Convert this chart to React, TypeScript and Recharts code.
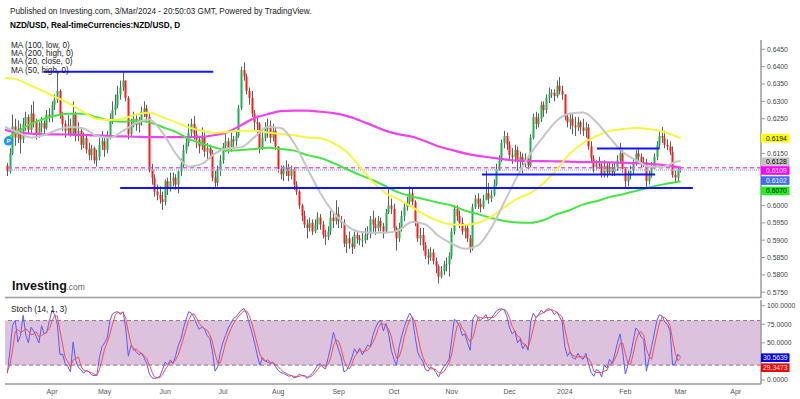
import React from 'react';
import { ComposedChart, Bar, Line, XAxis, YAxis, ReferenceLine, ReferenceArea, ReferenceDot } from 'recharts';

const FONT = '"Liberation Sans", Arial, Helvetica, sans-serif';

// x = trading-day index, 0 = Mon 3 Apr 2023 (first candle is Thu 9 Mar 2023)
const firstDay = -17;
const firstOpen = 6115;

// daily NZD/USD in pips (price x 10000), one row per week
const closes = [
    6098, 6150,
    6228, 6195, 6222, 6190, 6235,
    6255, 6218, 6265, 6240, 6205,
    6225, 6238, 6222, 6262, 6255,
    6290, 6305, 6330, 6258, 6235,
    6215, 6230, 6205, 6262, 6200,
    6215, 6175, 6195, 6162, 6145,
    6165, 6130, 6140, 6175, 6185,
    6160, 6200, 6245, 6275, 6290,
    6320, 6340, 6360, 6310, 6205,
    6230, 6250, 6232, 6240, 6270,
    6280, 6255, 6105, 6080, 6040,
    6030, 6018, 6010, 6070, 6050,
    6070, 6080, 6060, 6098, 6120,
    6160, 6180, 6210, 6235, 6205,
    6190, 6170, 6200, 6155, 6165,
    6150, 6080, 6065, 6100, 6130,
    6170, 6185, 6165, 6190, 6185,
    6200, 6280, 6390, 6372, 6330,
    6310, 6265, 6240, 6235, 6165,
    6195, 6220, 6230, 6195, 6215,
    6170, 6105, 6090, 6100, 6110,
    6085, 6105, 6060, 6040, 6000,
    5970, 5945, 5935, 5950, 5925,
    5945, 5965, 5945, 5915, 5910,
    5925, 5965, 5955, 5975, 5955,
    5950, 5890, 5905, 5890, 5880,
    5915, 5905, 5900, 5900, 5915,
    5920, 5960, 5945, 5935, 5955,
    5940, 5925, 5980, 6000, 5990,
    5935, 5905, 5935, 5970, 5995,
    6010, 6035, 6010, 5950, 5905,
    5915, 5885, 5855, 5850, 5865,
    5840, 5825, 5795, 5810, 5830,
    5830, 5855, 5925, 5990, 5970,
    5950, 5925, 5935, 5905, 5875,
    5995, 6020, 6005, 5995, 6015,
    6035, 6020, 6030, 6060, 6105,
    6130, 6180, 6200, 6175, 6145,
    6140, 6160, 6130, 6140, 6125,
    6135, 6115, 6195, 6255, 6235,
    6250, 6290, 6275, 6310, 6320,
    6325, 6315, 6345, 6330, 6320,
    6255, 6240, 6250, 6230, 6225,
    6240, 6225, 6215, 6225, 6170,
    6135, 6110, 6120, 6115, 6090,
    6115, 6095, 6110, 6095, 6110,
    6130, 6150, 6105, 6070, 6085,
    6100, 6125, 6150, 6140, 6120,
    6125, 6070, 6090, 6110, 6140,
    6175, 6200, 6195, 6175, 6170,
    6155, 6088, 6080, 6105, 6102,
];

const highs = [
    6122, 6165,
    6262, 6250, 6245, 6236, 6252,
    6270, 6262, 6290, 6300, 6250,
    6240, 6255, 6245, 6275, 6280,
    6300, 6320, 6385, 6335, 6270,
    6245, 6260, 6250, 6300, 6270,
    6240, 6225, 6210, 6205, 6180,
    6175, 6170, 6160, 6195, 6215,
    6195, 6215, 6265, 6300, 6320,
    6345, 6360, 6385, 6360, 6315,
    6250, 6270, 6260, 6255, 6285,
    6300, 6290, 6265, 6120, 6090,
    6060, 6055, 6040, 6075, 6080,
    6095, 6095, 6090, 6105, 6135,
    6175, 6200, 6235, 6250, 6258,
    6225, 6200, 6225, 6210, 6180,
    6175, 6160, 6100, 6115, 6145,
    6180, 6205, 6195, 6210, 6200,
    6215, 6290, 6400, 6412, 6380,
    6340, 6330, 6275, 6260, 6240,
    6215, 6240, 6250, 6245, 6235,
    6225, 6170, 6115, 6115, 6130,
    6120, 6115, 6110, 6070, 6045,
    6005, 5985, 5960, 5965, 5960,
    5960, 5980, 5975, 5955, 5930,
    5940, 5985, 5980, 6015, 5995,
    5970, 5960, 5915, 5925, 5910,
    5925, 5925, 5915, 5925, 5935,
    5940, 5970, 5985, 5965, 5970,
    5965, 5950, 5990, 6050, 6020,
    6005, 5940, 5950, 5985, 6010,
    6025, 6055, 6050, 6015, 5955,
    5935, 5935, 5895, 5875, 5880,
    5875, 5850, 5830, 5825, 5840,
    5850, 5865, 5935, 6000, 6000,
    5985, 5965, 5945, 5945, 5915,
    6005, 6030, 6035, 6020, 6030,
    6100, 6065, 6045, 6075, 6120,
    6145, 6190, 6215, 6210, 6185,
    6165, 6175, 6170, 6155, 6150,
    6150, 6145, 6205, 6265, 6270,
    6265, 6300, 6300, 6320, 6340,
    6335, 6335, 6360, 6370, 6345,
    6320, 6265, 6265, 6265, 6255,
    6255, 6245, 6250, 6240, 6235,
    6185, 6145, 6130, 6140, 6125,
    6130, 6125, 6125, 6120, 6125,
    6145, 6180, 6160, 6110, 6100,
    6115, 6135, 6160, 6165, 6150,
    6140, 6135, 6100, 6125, 6150,
    6185, 6215, 6226, 6215, 6190,
    6185, 6170, 6100, 6112, 6112,
];

const lows = [
    6085, 6092,
    6145, 6172, 6180, 6150, 6180,
    6215, 6205, 6210, 6225, 6190,
    6195, 6210, 6205, 6218, 6240,
    6240, 6275, 6295, 6250, 6215,
    6195, 6205, 6198, 6200, 6185,
    6185, 6160, 6165, 6150, 6130,
    6130, 6120, 6112, 6130, 6160,
    6140, 6150, 6190, 6235, 6260,
    6280, 6305, 6330, 6300, 6190,
    6200, 6225, 6215, 6210, 6230,
    6255, 6240, 6095, 6060, 6025,
    6015, 6005, 5987, 6000, 6030,
    6040, 6055, 6045, 6035, 6085,
    6110, 6150, 6170, 6200, 6190,
    6165, 6150, 6160, 6140, 6130,
    6135, 6070, 6053, 6055, 6085,
    6120, 6155, 6150, 6155, 6165,
    6170, 6195, 6275, 6360, 6320,
    6290, 6255, 6215, 6200, 6150,
    6160, 6185, 6195, 6180, 6185,
    6160, 6095, 6075, 6070, 6085,
    6070, 6075, 6045, 6030, 5990,
    5955, 5935, 5905, 5925, 5915,
    5920, 5930, 5930, 5905, 5886,
    5900, 5915, 5935, 5945, 5935,
    5935, 5880, 5863, 5875, 5860,
    5875, 5890, 5885, 5880, 5890,
    5900, 5905, 5920, 5915, 5925,
    5925, 5905, 5920, 5975, 5975,
    5925, 5870, 5895, 5925, 5955,
    5985, 6000, 6000, 5940, 5895,
    5885, 5870, 5845, 5830, 5840,
    5830, 5805, 5775, 5790, 5800,
    5810, 5795, 5845, 5915, 5955,
    5935, 5915, 5905, 5895, 5863,
    5870, 5990, 5990, 5980, 5990,
    6015, 6005, 6010, 6025, 6055,
    6100, 6125, 6165, 6160, 6130,
    6120, 6125, 6100, 6110, 6093,
    6110, 6105, 6110, 6190, 6220,
    6225, 6240, 6255, 6265, 6295,
    6310, 6300, 6310, 6320, 6305,
    6245, 6225, 6220, 6205, 6200,
    6215, 6205, 6200, 6195, 6160,
    6125, 6095, 6100, 6105, 6080,
    6080, 6080, 6090, 6085, 6085,
    6100, 6120, 6095, 6050, 6055,
    6075, 6090, 6115, 6125, 6110,
    6110, 6050, 6060, 6080, 6105,
    6130, 6165, 6180, 6165, 6160,
    6145, 6080, 6068, 6070, 6095,
];

// moving averages, read every 5th trading day (last point = 1 Mar 2024)
const maDays = [
    -18, -13, -8, -3, 2, 7, 12, 17, 22, 27, 32, 37, 42, 47, 52, 57, 62, 67, 72, 77,
    82, 87, 92, 97, 102, 107, 112, 117, 122, 127, 132, 137, 142, 147, 152, 157, 162, 167, 172, 177,
    182, 187, 192, 197, 202, 207, 212, 217, 222, 227, 232, 237, 239,
];
const ma20Close = [
    0.6226, 0.6211, 0.6196, 0.6203, 0.6218, 0.6226, 0.6222, 0.6200, 0.6195, 0.6215,
    0.6238, 0.6248, 0.6210, 0.6150, 0.6112, 0.6120, 0.6150, 0.6165, 0.6168, 0.6197,
    0.6226, 0.6223, 0.6180, 0.6108, 0.6036, 0.5980, 0.5942, 0.5924, 0.5921, 0.5921,
    0.5929, 0.5952, 0.5945, 0.5912, 0.5890, 0.5875, 0.5885, 0.5935, 0.6010, 0.6085,
    0.6150, 0.6200, 0.6245, 0.6265, 0.6268, 0.6240, 0.6196, 0.6154, 0.6131, 0.6112,
    0.6111, 0.6125, 0.6128,
];
const ma50High = [
    0.6368, 0.6362, 0.6345, 0.6328, 0.6310, 0.6292, 0.6269, 0.6250, 0.6246, 0.6250,
    0.6262, 0.6268, 0.6254, 0.6240, 0.6225, 0.6215, 0.6209, 0.6212, 0.6215, 0.6215,
    0.6210, 0.6206, 0.6202, 0.6196, 0.6194, 0.6180, 0.6155, 0.6112, 0.6068, 0.6035,
    0.6017, 0.5995, 0.5972, 0.5955, 0.5945, 0.5944, 0.5950, 0.5967, 0.5995, 0.6020,
    0.6036, 0.6065, 0.6105, 0.6150, 0.6180, 0.6200, 0.6215, 0.6220, 0.6223, 0.6220,
    0.6213, 0.6200, 0.6194,
];
const ma100Low = [
    0.6190, 0.6213, 0.6235, 0.6250, 0.6260, 0.6264, 0.6264, 0.6254, 0.6245, 0.6241,
    0.6245, 0.6240, 0.6226, 0.6212, 0.6192, 0.6178, 0.6167, 0.6158, 0.6160, 0.6163,
    0.6166, 0.6163, 0.6158, 0.6145, 0.6137, 0.6122, 0.6105, 0.6088, 0.6073, 0.6055,
    0.6037, 0.6026, 0.6017, 0.6008, 0.6000, 0.5985, 0.5975, 0.5964, 0.5955, 0.5951,
    0.5950, 0.5958, 0.5975, 0.5987, 0.6003, 0.6012, 0.6024, 0.6032, 0.6042, 0.6052,
    0.6060, 0.6067, 0.6070,
];
const ma200High = [
    0.6218, 0.6210, 0.6207, 0.6205, 0.6205, 0.6204, 0.6203, 0.6202, 0.6200, 0.6199,
    0.6198, 0.6197, 0.6197, 0.6197, 0.6197, 0.6198, 0.6203, 0.6212, 0.6232, 0.6252,
    0.6263, 0.6272, 0.6273, 0.6273, 0.6270, 0.6266, 0.6258, 0.6245, 0.6230, 0.6215,
    0.6205, 0.6198, 0.6185, 0.6170, 0.6160, 0.6150, 0.6143, 0.6138, 0.6133, 0.6129,
    0.6128, 0.6128, 0.6127, 0.6126, 0.6125, 0.6125, 0.6124, 0.6123, 0.6122, 0.6120,
    0.6117, 0.6112, 0.6109,
];

// Stoch (14, 1, 3), same days as the candles
const stochK = [
    9, 40,
    74, 80, 51, 60, 87,
    61, 50, 71, 66, 58,
    50, 73, 62, 64, 80,
    94, 88, 75, 34, 35,
    22, 18, 11, 51, 26,
    17, 14, 9, 13, 11,
    7, 6, 6, 30, 45,
    50, 57, 80, 89, 91,
    92, 88, 92, 70, 32,
    46, 43, 38, 34, 36,
    30, 22, 8, 3, 2,
    3, 5, 14, 24, 20,
    27, 22, 33, 46, 55,
    70, 82, 92, 90, 84,
    75, 68, 72, 68, 60,
    56, 38, 12, 18, 38,
    51, 60, 70, 76, 83,
    85, 90, 94, 96, 89,
    76, 64, 50, 34, 20,
    30, 26, 24, 22, 24,
    18, 13, 10, 9, 7,
    5, 6, 3, 4, 8,
    6, 5, 2, 6, 9,
    14, 20, 22, 17, 15,
    30, 45, 64, 52, 40,
    30, 11, 13, 20, 30,
    42, 36, 43, 34, 40,
    47, 45, 60, 70, 78,
    80, 66, 76, 62, 40,
    28, 20, 45, 60, 72,
    82, 90, 84, 60, 38,
    30, 25, 14, 12, 18,
    15, 10, 4, 12, 18,
    22, 28, 55, 82, 78,
    72, 60, 62, 50, 40,
    82, 88, 84, 80, 84,
    88, 80, 83, 88, 93,
    95, 96, 94, 85, 70,
    62, 66, 50, 55, 42,
    48, 40, 78, 90, 84,
    88, 94, 90, 95, 96,
    94, 88, 92, 85, 78,
    45, 32, 38, 30, 28,
    36, 30, 28, 36, 22,
    10, 5, 14, 12, 4,
    20, 16, 28, 22, 35,
    50, 62, 38, 8, 20,
    34, 52, 70, 66, 58,
    55, 12, 28, 45, 62,
    80, 88, 86, 78, 75,
    66, 20, 22, 35, 30.5639,
];
const stochD = [
    12, 20,
    41, 65, 68, 64, 66,
    69, 66, 61, 62, 65,
    58, 60, 62, 66, 69,
    79, 87, 86, 66, 48,
    30, 25, 17, 27, 29,
    31, 19, 13, 12, 11,
    10, 8, 6, 14, 27,
    42, 51, 62, 75, 87,
    91, 90, 91, 83, 65,
    49, 40, 42, 38, 36,
    33, 29, 20, 11, 4,
    3, 3, 7, 14, 19,
    24, 23, 27, 34, 45,
    57, 69, 81, 88, 89,
    83, 76, 72, 69, 67,
    61, 51, 35, 23, 23,
    36, 50, 60, 69, 76,
    81, 86, 90, 93, 93,
    87, 76, 63, 49, 35,
    28, 25, 27, 24, 23,
    21, 18, 14, 11, 9,
    7, 6, 5, 4, 5,
    6, 6, 4, 4, 6,
    10, 14, 19, 20, 18,
    21, 30, 46, 54, 52,
    41, 27, 18, 15, 21,
    31, 36, 40, 38, 39,
    40, 44, 51, 58, 69,
    76, 75, 74, 68, 59,
    43, 29, 31, 42, 59,
    71, 81, 85, 78, 61,
    43, 31, 23, 17, 15,
    15, 14, 10, 9, 11,
    17, 23, 35, 55, 72,
    77, 70, 65, 57, 51,
    57, 70, 85, 84, 83,
    84, 84, 84, 84, 88,
    92, 95, 95, 92, 83,
    72, 66, 59, 57, 49,
    48, 43, 55, 69, 84,
    87, 89, 91, 93, 94,
    95, 93, 91, 88, 85,
    69, 52, 38, 33, 32,
    31, 31, 31, 31, 29,
    23, 12, 10, 10, 10,
    12, 13, 21, 22, 28,
    36, 49, 50, 36, 22,
    21, 35, 52, 63, 65,
    60, 42, 32, 28, 45,
    62, 77, 85, 84, 80,
    73, 54, 36, 26, 29.3473,
];

const monthTicks = [0, 20, 43, 65, 86, 109, 130, 152, 174, 195, 218, 239, 260];
const monthLabels = ['Apr', 'May', 'Jun', 'Jul', 'Aug', 'Sep', 'Oct', 'Nov', 'Dec', '2024', 'Feb', 'Mar', 'Apr'];
// labels hidden behind the price tags are left out
const priceTicks = [0.575, 0.58, 0.585, 0.59, 0.595, 0.6, 0.615, 0.625, 0.63, 0.635, 0.64, 0.645];
const stochTicks = [0, 50, 75, 100];

// hand-drawn horizontal lines (day from, day to, price)
const trendLines = [
    { from: -3.3, to: 61.3, price: 0.6385 },
    { from: 25.9, to: 243.7, price: 0.6050 },
    { from: 163.5, to: 229.3, price: 0.6089 },
    { from: 207.2, to: 231, price: 0.6164 },
];

const priceTags = [
    { value: 0.6194, bg: '#ffff00', fg: '#000', shift: 0 },
    { value: 0.6128, bg: '#c4c4c4', fg: '#000', shift: 0.7 },
    { value: 0.6109, bg: '#ff00ff', fg: '#fff', shift: 2.9 },
    { value: 0.6102, bg: '#3f6cf2', fg: '#fff', shift: 10.5 },
    { value: 0.6070, bg: '#22ee22', fg: '#000', shift: 9.8 },
];
const stochTags = [
    { value: 30.5639, bg: '#0000ee', fg: '#fff', shift: 0.4 },
    { value: 29.3473, bg: '#ff0000', fg: '#fff', shift: 9.5 },
];

const X_DOMAIN: [number, number] = [-17.9, 269.6];
const PRICE_DOMAIN: [number, number] = [0.57333, 0.64768];
const STOCH_DOMAIN: [number, number] = [-5.39, 107.67];

const GREEN = '#1fae52';
const RED = '#ff1a1a';
const WICK = '#56625a';

const candleRows = closes.map((c, i) => ({
    day: firstDay + i,
    o: (i === 0 ? firstOpen : closes[i - 1]) / 10000,
    h: highs[i] / 10000,
    l: lows[i] / 10000,
    c: c / 10000,
}));

const priceRows = (() => {
    const byDay = new Map<number, any>();
    candleRows.forEach(r => byDay.set(r.day, { ...r }));
    maDays.forEach((d, i) => {
        const row = byDay.get(d) ?? { day: d };
        row.ma20 = ma20Close[i];
        row.ma50 = ma50High[i];
        row.ma100 = ma100Low[i];
        row.ma200 = ma200High[i];
        byDay.set(d, row);
    });
    return Array.from(byDay.values()).sort((a, b) => a.day - b.day);
})();

const stochRows = stochK.map((k, i) => ({ day: firstDay + i, k, d: stochD[i] }));

const Candle = (props: any) => {
    const { x, y, width, height, payload } = props;
    if (!payload || payload.h == null || !isFinite(y) || !isFinite(height)) return null;
    const { o, h, l, c } = payload;
    const top = Math.min(y, y + height);
    const span = Math.abs(height);
    const pxPer = span / (h - l || 1);
    const cx = Math.round(x + width / 2) + 0.5;
    const bodyTop = top + (h - Math.max(o, c)) * pxPer;
    const bodyH = Math.max(1, Math.abs(o - c) * pxPer);
    return (
        <g>
            <line x1={cx} x2={cx} y1={top} y2={top + span} stroke={WICK} strokeWidth={1} />
            <rect x={cx - 1} y={bodyTop} width={2} height={bodyH} fill={c >= o ? GREEN : RED} />
        </g>
    );
};

const Tag = ({ cx, cy, text, bg, fg, shift, pad }: any) => (
    <g>
        <rect x={cx} y={cy + shift - 4.3} width={28.5} height={8.6} fill={bg} />
        <text x={cx + pad} y={cy + shift} dy="0.35em" fontSize={6.8} fill={fg} fontFamily={FONT}>{text}</text>
    </g>
);

const axisTick = { fontSize: 6.8, fill: '#444', fontFamily: FONT };

function PriceChart() {
    return (
        <ComposedChart width={800} height={300} data={priceRows} margin={{ top: 40, right: 0, bottom: 2, left: 5 }}>
            <XAxis dataKey="day" type="number" domain={X_DOMAIN} allowDataOverflow hide />
            <YAxis
                orientation="right"
                width={39}
                type="number"
                domain={PRICE_DOMAIN}
                allowDataOverflow
                ticks={priceTicks}
                interval={0}
                tickFormatter={(v: number) => v.toFixed(4)}
                tick={axisTick}
                tickSize={4}
                tickMargin={2}
                axisLine={{ stroke: '#9a9a9a', strokeWidth: 1.5 }}
                tickLine={{ stroke: '#9a9a9a' }}
            />
            <ReferenceLine y={0.6109} stroke="#ea55ea" strokeDasharray="4 3" strokeWidth={1.5} />
            <ReferenceLine y={0.6102} stroke="#a4b6f2" strokeDasharray="1 1" strokeWidth={1.5} />
            <Bar
                dataKey={(d: any) => (d.h != null ? [d.l, d.h] : null)}
                barSize={2}
                shape={(p: any) => <Candle {...p} />}
                isAnimationActive={false}
            />
            <Line dataKey="ma200" type="monotone" stroke="#ee44ee" strokeWidth={2.2} dot={false} activeDot={false} connectNulls isAnimationActive={false} />
            <Line dataKey="ma100" type="monotone" stroke="#44e444" strokeWidth={2} dot={false} activeDot={false} connectNulls isAnimationActive={false} />
            <Line dataKey="ma50" type="monotone" stroke="#f6f63c" strokeWidth={2} dot={false} activeDot={false} connectNulls isAnimationActive={false} />
            <Line dataKey="ma20" type="monotone" stroke="#c6c6c6" strokeWidth={2} dot={false} activeDot={false} connectNulls isAnimationActive={false} />
            {trendLines.map((t, i) => (
                <ReferenceLine
                    key={i}
                    segment={[{ x: t.from, y: t.price }, { x: t.to, y: t.price }]}
                    stroke="#1414ff"
                    strokeWidth={2}
                />
            ))}
            <ReferenceDot
                x={-16.6}
                y={0.6186}
                ifOverflow="visible"
                shape={(p: any) => (
                    <g>
                        <circle cx={p.cx} cy={p.cy} r={4.6} fill="#2196f3" />
                        <text x={p.cx} y={p.cy} dy="0.35em" textAnchor="middle" fontSize={6} fontWeight="bold" fill="#fff" fontFamily={FONT}>P</text>
                    </g>
                )}
            />
            {priceTags.map(t => (
                <ReferenceDot
                    key={t.value}
                    x={X_DOMAIN[1]}
                    y={t.value}
                    ifOverflow="visible"
                    shape={(p: any) => <Tag cx={p.cx} cy={p.cy} text={t.value.toFixed(4)} bg={t.bg} fg={t.fg} shift={t.shift} pad={5} />}
                />
            ))}
        </ComposedChart>
    );
}

function StochChart() {
    return (
        <ComposedChart width={800} height={101} data={stochRows} margin={{ top: 2, right: 0, bottom: 0, left: 5 }}>
            <XAxis
                dataKey="day"
                type="number"
                domain={X_DOMAIN}
                allowDataOverflow
                ticks={monthTicks}
                interval={0}
                tickFormatter={(v: number) => monthLabels[monthTicks.indexOf(v)] ?? ''}
                height={15}
                tickLine={false}
                tickSize={3}
                tickMargin={2}
                axisLine={{ stroke: '#9a9a9a', strokeWidth: 1.5 }}
                tick={{ fontSize: 7, fill: '#555', fontFamily: FONT }}
            />
            <YAxis
                orientation="right"
                width={39}
                type="number"
                domain={STOCH_DOMAIN}
                allowDataOverflow
                ticks={stochTicks}
                interval={0}
                tickFormatter={(v: number) => v.toFixed(4)}
                tick={axisTick}
                tickSize={4}
                tickMargin={2}
                axisLine={{ stroke: '#9a9a9a', strokeWidth: 1.5 }}
                tickLine={{ stroke: '#9a9a9a' }}
            />
            <ReferenceArea y1={20} y2={80} fill="#dcc2dc" fillOpacity={1} stroke="none" />
            <ReferenceLine y={80} stroke="#8c7a8c" strokeDasharray="4 3" />
            <ReferenceLine y={20} stroke="#8c7a8c" strokeDasharray="4 3" />
            <Line dataKey="k" type="linear" stroke="#5a5aff" strokeWidth={1} dot={false} activeDot={false} isAnimationActive={false} />
            <Line dataKey="d" type="linear" stroke="#ff4a4a" strokeWidth={1} dot={false} activeDot={false} isAnimationActive={false} />
            {stochTags.map(t => (
                <ReferenceDot
                    key={t.value}
                    x={X_DOMAIN[1]}
                    y={t.value}
                    ifOverflow="visible"
                    shape={(p: any) => <Tag cx={p.cx} cy={p.cy} text={t.value.toFixed(4)} bg={t.bg} fg={t.fg} shift={t.shift} pad={2} />}
                />
            ))}
        </ComposedChart>
    );
}

const legend = ['MA (100, low, 0)', 'MA (200, high, 0)', 'MA (20, close, 0)', 'MA (50, high, 0)'];

export default function App() {
    return (
        <div style={{ position: 'absolute', left: 0, top: 0, width: 800, height: 399, background: '#fff', overflow: 'hidden' }}>
            <div style={{ position: 'absolute', left: 0, top: 0 }}>
                <PriceChart />
            </div>
            <div style={{ position: 'absolute', left: 0, top: 298 }}>
                <StochChart />
            </div>
            <svg width={800} height={399} style={{ position: 'absolute', left: 0, top: 0, pointerEvents: 'none' }} fontFamily={FONT}>
                <text x={10} y={13.5} fontSize={8.2} fill="#222">
                    Published on Investing.com, 3/Mar/2024 - 20:50:03 GMT, Powered by TradingView.
                </text>
                <text x={10} y={28} fontSize={8.2} fontWeight="bold" fill="#000">
                    NZD/USD, Real-timeCurrencies:NZD/USD, D
                </text>
                {legend.map((s, i) => (
                    <text key={s} x={11} y={47.6 + i * 8.4} fontSize={8.2} fill="#222">{s}</text>
                ))}
                <text x={12} y={289.5} fontSize={12.5} fontWeight="bold" fill="#111">Investing</text>
                <text x={66.5} y={289.5} fontSize={8.5} fill="#666">.com</text>
                <line x1={5} x2={761} y1={297.5} y2={297.5} stroke="#9a9a9a" strokeWidth={1.5} />
                <text x={11} y={311.5} fontSize={8.2} fill="#222">Stoch (14, 1, 3)</text>
            </svg>
        </div>
    );
}
